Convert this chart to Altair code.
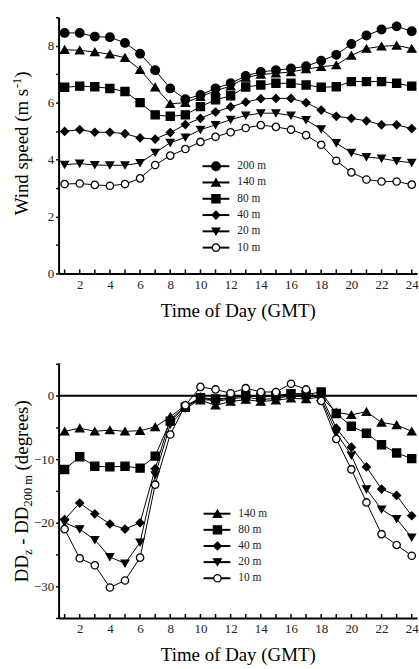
import altair as alt
import pandas as pd

hours = list(range(1, 25))

# ---- Wind speed (top panel) ----
ws_series = ["200 m", "140 m", "80 m", "40 m", "20 m", "10 m"]
ws_200 = [8.45, 8.45, 8.32, 8.3, 8.1, 7.72, 7.14, 6.5, 6.12, 6.27, 6.5, 6.68, 6.94, 7.08, 7.14, 7.2, 7.28, 7.47, 7.68, 8.06, 8.36, 8.57, 8.68, 8.51]
ws_140 = [7.86, 7.84, 7.78, 7.7, 7.58, 7.16, 6.54, 5.96, 6.0, 6.21, 6.42, 6.58, 6.88, 6.99, 7.03, 7.08, 7.18, 7.26, 7.32, 7.66, 7.9, 7.98, 8.01, 7.9]
ws_80 = [6.54, 6.58, 6.56, 6.5, 6.39, 6.0, 5.57, 5.52, 5.57, 5.86, 6.1, 6.24, 6.55, 6.62, 6.68, 6.68, 6.62, 6.54, 6.56, 6.74, 6.74, 6.74, 6.68, 6.58]
ws_40 = [4.99, 5.05, 4.96, 4.96, 4.91, 4.76, 4.72, 4.95, 5.23, 5.45, 5.67, 5.85, 6.02, 6.14, 6.15, 6.15, 6.0, 5.74, 5.52, 5.45, 5.36, 5.22, 5.22, 5.09]
ws_20 = [3.82, 3.86, 3.81, 3.8, 3.8, 3.88, 4.24, 4.59, 4.78, 5.05, 5.22, 5.4, 5.55, 5.63, 5.63, 5.55, 5.39, 5.07, 4.58, 4.24, 4.09, 4.04, 3.95, 3.89]
ws_10 = [3.14, 3.16, 3.11, 3.08, 3.14, 3.34, 3.81, 4.14, 4.37, 4.62, 4.8, 4.96, 5.11, 5.21, 5.15, 5.05, 4.86, 4.52, 3.96, 3.55, 3.3, 3.23, 3.23, 3.12]

# ---- Direction difference (bottom panel) ----
dd_series = ["140 m", "80 m", "40 m", "20 m", "10 m"]
dd_140 = [-5.6, -5.1, -5.6, -5.4, -5.6, -5.5, -4.9, -3.3, -1.5, -0.7, -1.5, -0.9, -0.6, -0.9, -0.7, -0.4, -0.5, -0.2, -2.6, -3.0, -2.5, -4.2, -4.6, -5.6]
dd_80 = [-11.6, -9.6, -11.1, -11.2, -11.1, -11.4, -9.5, -4.0, -1.8, -0.3, -0.5, -0.3, 0.0, -0.2, 0.0, 0.3, 0.2, 0.6, -2.8, -4.8, -5.9, -7.7, -9.0, -9.9]
dd_40 = [-19.5, -16.9, -18.6, -20.2, -21.0, -20.0, -11.5, -3.7, -1.7, -0.2, -0.9, -0.5, -0.2, -0.6, -0.4, 0.0, -0.2, 0.0, -5.1, -8.1, -11.2, -14.7, -15.7, -18.9]
dd_20 = [-20.0, -21.0, -22.7, -25.4, -26.4, -23.1, -12.5, -4.5, -2.0, -0.6, -0.7, -0.3, 0.2, -0.2, 0.0, 0.4, 0.3, -0.5, -5.8, -9.4, -14.7, -17.9, -19.4, -22.3]
dd_10 = [-21.0, -25.6, -26.7, -30.2, -29.1, -25.5, -14.0, -6.1, -1.5, 1.4, 1.0, 0.4, 1.2, 0.6, 0.6, 1.9, 1.0, -0.8, -6.8, -11.6, -16.8, -21.8, -23.5, -25.2]

x_title = "Time of Day (GMT)"

# ---- tables ----
ws_df = pd.DataFrame(
    [(h, s, v) for s, vals in zip(ws_series, [ws_200, ws_140, ws_80, ws_40, ws_20, ws_10])
     for h, v in zip(hours, vals)],
    columns=["hour", "series", "value"])
dd_df = pd.DataFrame(
    [(h, s, v) for s, vals in zip(dd_series, [dd_140, dd_80, dd_40, dd_20, dd_10])
     for h, v in zip(hours, vals)],
    columns=["hour", "series", "value"])
tick_df = pd.DataFrame({"hour": hours})

FONT = "Liberation Serif"
shape_scale = alt.Scale(domain=ws_series,
                        range=["circle", "triangle-up", "square", "diamond", "triangle-down", "circle"])
fill_scale = alt.Scale(domain=ws_series,
                       range=["black", "black", "black", "black", "black", "white"])
size_scale = alt.Scale(domain=ws_series, range=[75, 55, 62, 38, 50, 90])

shape_enc = alt.Shape("series:N", scale=shape_scale, legend=None)
fill_enc = alt.Fill("series:N", scale=fill_scale, legend=None)
size_enc = alt.Size("series:N", scale=size_scale, legend=None)

x_enc = alt.X("hour:Q",
              scale=alt.Scale(domain=[0.6, 24.35], nice=False, zero=False),
              axis=alt.Axis(values=hours, title=x_title, ticks=False, labelPadding=5,
                            labelExpr="datum.value % 2 == 0 ? datum.label : ''"))


def panel(df, y_domain, y_values, label_mod, legend_series, legend_range,
          legend_x, title_parts, width, height, zero_line=False):
    y_enc = alt.Y("value:Q",
                  scale=alt.Scale(domain=y_domain, nice=False, zero=False),
                  axis=alt.Axis(values=y_values, title=None,
                                labelExpr=f"datum.value % {label_mod} == 0 ? datum.label : ''"))
    base = alt.Chart(df)
    lines = base.mark_line(color="black", strokeWidth=1).encode(
        x=x_enc, y=y_enc, detail="series:N")
    pts = base.mark_point(stroke="black", strokeWidth=1.3, opacity=1, fillOpacity=1).encode(
        x=x_enc, y=y_enc, shape=shape_enc, fill=fill_enc, size=size_enc)
    # small inward ticks on the time axis
    xticks = alt.Chart(tick_df).mark_rule(color="black", strokeWidth=1.5).encode(
        x=x_enc, y=alt.value(height), y2=alt.value(height - 4))
    main_layers = [xticks, lines, pts]
    if zero_line:
        zl = alt.Chart(pd.DataFrame({"value": [0]})).mark_rule(
            color="black", strokeWidth=2).encode(y=y_enc)
        main_layers = [lines, zl, xticks, pts]
    main = alt.layer(*main_layers)

    leg_df = pd.DataFrame({"series": legend_series, "row": list(range(len(legend_series)))})
    ly = alt.Y("row:Q", scale=alt.Scale(domain=[0, len(legend_series) - 1],
                                        range=legend_range, nice=False, zero=False), axis=None)
    lb = alt.Chart(leg_df)
    lx0, lx1, lxm, ltx = legend_x
    l_rule = lb.mark_rule(color="black", strokeWidth=2).encode(
        x=alt.value(lx0), x2=alt.value(lx1), y=ly)
    l_pts = lb.mark_point(stroke="black", strokeWidth=1.3, opacity=1, fillOpacity=1).encode(
        x=alt.value(lxm), y=ly, shape=shape_enc, fill=fill_enc, size=size_enc)
    l_txt = lb.mark_text(align="left", baseline="middle", font=FONT, fontSize=11.5,
                         color="#222").encode(x=alt.value(ltx), y=ly, text="series:N")
    legend = alt.layer(l_rule, l_pts, l_txt)

    dummy = pd.DataFrame({"a": [0]})
    titles = []
    for txt, px, py, fs in title_parts:
        titles.append(alt.Chart(dummy).mark_text(
            text=txt, angle=270, align="left", baseline="alphabetic",
            font=FONT, fontSize=fs, color="black").encode(
            x=alt.value(px), y=alt.value(py)))
    return alt.layer(main, legend, *titles).resolve_scale(y="independent").properties(
        width=width, height=height)


F = 19
S = 12.5
XT = -31
top_title = [
    ("Wind speed (m s", XT, 199.5, F),
    ("-1", XT - 7, 199.5 - 6.749 * F, S),
    (")", XT, 199.5 - 6.749 * F - 0.833 * S, F),
]
y0 = 221
bot_title = [
    ("DD", XT, y0, F),
    ("z", XT + 4, y0 - 1.444 * F, S),
    ("- DD", XT, y0 - 1.444 * F - 0.444 * S - 0.25 * F, F),
    ("200 m", XT + 4, y0 - 1.444 * F - 0.444 * S - 2.277 * F, S),
    ("(degrees)", XT, y0 - 1.444 * F - 0.444 * S - 2.277 * F - 2.528 * S - 0.25 * F, F),
]

top = panel(ws_df, [0, 9], list(range(0, 10)), 2, ws_series, [150, 232],
            (145, 172, 158.5, 180), top_title, 361, 258)
bottom = panel(dd_df, [-35, 5.2], list(range(-35, 6, 5)), 10, dd_series, [152, 217],
               (146, 173, 160, 181), bot_title, 361, 257, zero_line=True)

chart = alt.vconcat(top, bottom, spacing=43).properties(
    padding={"left": 11, "top": 14, "right": 0, "bottom": 0}
).configure_axis(
    grid=False, domainColor="black", domainWidth=2, tickColor="black", tickWidth=1.5,
    tickSize=3, labelFont=FONT, labelFontSize=13, labelColor="#222", labelPadding=2,
    titleFont=FONT, titleFontSize=19, titleFontWeight="normal", titleColor="black",
    titlePadding=10
).configure_view(stroke=None)

chart.save("out.html", embed_options={"renderer": "svg", "actions": False})
